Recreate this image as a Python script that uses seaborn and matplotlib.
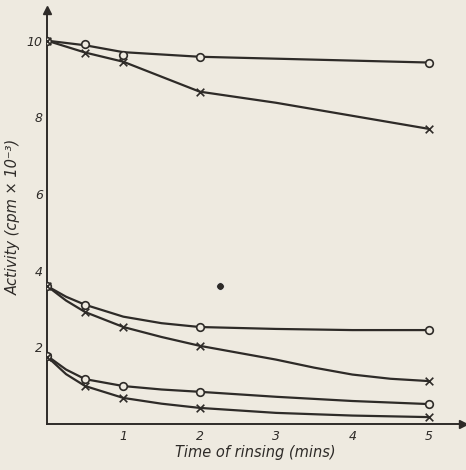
import matplotlib
matplotlib.use("Agg")
import matplotlib.pyplot as plt
import seaborn as sns
import pandas as pd

# ---- data (marked points) ----
time_top = [0, 0.5, 1, 2, 5]
circle_top = [10.0, 9.9, 9.63, 9.58, 9.43]
cross_top = [10.0, 9.69, 9.45, 8.67, 7.70]

time_mid_circle = [0, 0.5, 2, 5]
circle_mid = [3.60, 3.11, 2.53, 2.45]
time_mid_cross = [0, 0.5, 1, 2, 5]
cross_mid = [3.60, 2.92, 2.53, 2.04, 1.12]

time_low = [0, 0.5, 1, 2, 5]
circle_low = [1.78, 1.17, 0.99, 0.84, 0.52]
cross_low = [1.76, 0.99, 0.68, 0.42, 0.18]

# ---- drawn curves (marked points plus extra readings along each curve) ----
curve_top_circle_t = [0, 0.5, 1, 2, 3, 4, 5]
curve_top_circle_v = [10.0, 9.88, 9.7, 9.58, 9.53, 9.48, 9.43]
curve_top_cross_t = [0, 0.5, 1, 2, 3, 4, 5]
curve_top_cross_v = [10.0, 9.69, 9.45, 8.67, 8.38, 8.04, 7.70]
curve_mid_circle_t = [0, 0.25, 0.5, 1, 1.5, 2, 3, 4, 5]
curve_mid_circle_v = [3.60, 3.32, 3.11, 2.80, 2.63, 2.53, 2.48, 2.45, 2.45]
curve_mid_cross_t = [0, 0.25, 0.5, 1, 1.5, 2, 2.5, 3, 3.5, 4, 4.5, 5]
curve_mid_cross_v = [3.60, 3.22, 2.92, 2.53, 2.27, 2.04, 1.86, 1.68, 1.47, 1.29, 1.18, 1.12]
curve_low_circle_t = [0, 0.25, 0.5, 1, 1.5, 2, 3, 4, 5]
curve_low_circle_v = [1.78, 1.42, 1.17, 0.99, 0.90, 0.84, 0.71, 0.60, 0.52]
curve_low_cross_t = [0, 0.25, 0.5, 1, 1.5, 2, 3, 4, 5]
curve_low_cross_v = [1.76, 1.30, 0.99, 0.68, 0.53, 0.42, 0.29, 0.22, 0.18]

stray_x = [2.26]
stray_y = [3.60]

x_ticks = [1, 2, 3, 4, 5]
y_ticks = [1, 2, 3, 4, 5, 6, 7, 8, 9, 10]
y_tick_labels = ["", "2", "", "4", "", "6", "", "8", "", "10"]

curves = [
    (curve_top_circle_t, curve_top_circle_v),
    (curve_top_cross_t, curve_top_cross_v),
    (curve_mid_circle_t, curve_mid_circle_v),
    (curve_mid_cross_t, curve_mid_cross_v),
    (curve_low_circle_t, curve_low_circle_v),
    (curve_low_cross_t, curve_low_cross_v),
]
markers = [
    (time_top, circle_top, "o"),
    (time_top, cross_top, "x"),
    (time_mid_circle, circle_mid, "o"),
    (time_mid_cross, cross_mid, "x"),
    (time_low, circle_low, "o"),
    (time_low, cross_low, "x"),
]

BG = "#eeeae0"
INK = "#2e2b28"

sns.set_style("white")
plt.rcParams["font.family"] = ["DejaVu Sans"]

fig = plt.figure(figsize=(4.66, 4.70), dpi=100, facecolor=BG)
ax = fig.add_axes([47 / 466, 46 / 470, 416 / 466, 414 / 470])
ax.set_facecolor(BG)

for xs, ys in curves:
    df = pd.DataFrame({"t": xs, "a": ys})
    sns.lineplot(data=df, x="t", y="a", ax=ax, color=INK, lw=1.6, zorder=2,
                 solid_joinstyle="round")

for xs, ys, mk in markers:
    df = pd.DataFrame({"t": xs, "a": ys})
    if mk == "o":
        sns.scatterplot(data=df, x="t", y="a", ax=ax, marker="o", s=30,
                        facecolor=BG, edgecolor=INK, linewidth=1.2, zorder=3)
    else:
        sns.scatterplot(data=df, x="t", y="a", ax=ax, marker="x", s=30,
                        color=INK, linewidth=1.2, zorder=3)

sns.scatterplot(x=stray_x, y=stray_y, ax=ax, color=INK, s=30, zorder=3)

ax.set_xlim(0, 5.45)
ax.set_ylim(0, 10.8)

for s in ["top", "right"]:
    ax.spines[s].set_visible(False)
for s in ["left", "bottom"]:
    ax.spines[s].set_color(INK)
    ax.spines[s].set_linewidth(1.4)

# arrow heads
ax.plot(1, 0, ">", color=INK, ms=6, transform=ax.get_yaxis_transform(), clip_on=False)
ax.plot(0, 1, "^", color=INK, ms=6, transform=ax.get_xaxis_transform(), clip_on=False)

ax.set_xticks(x_ticks)
ax.set_xticklabels([str(v) for v in x_ticks], style="italic", fontsize=9, color=INK)
ax.set_yticks(y_ticks)
ax.set_yticklabels(y_tick_labels, style="italic", fontsize=9, color=INK)
ax.tick_params(axis="x", direction="in", length=6, width=1.2, color=INK, pad=4)
ax.tick_params(axis="y", direction="in", length=7, width=1.2, color=INK, pad=3)

ax.set_xlabel("Time of rinsing (mins)", style="italic", fontsize=10.5, color=INK, labelpad=2)
ax.set_ylabel("Activity (cpm × 10⁻³)", style="italic", fontsize=10.5, color=INK, labelpad=4)

fig.savefig("out.png", dpi=100, facecolor=BG)
